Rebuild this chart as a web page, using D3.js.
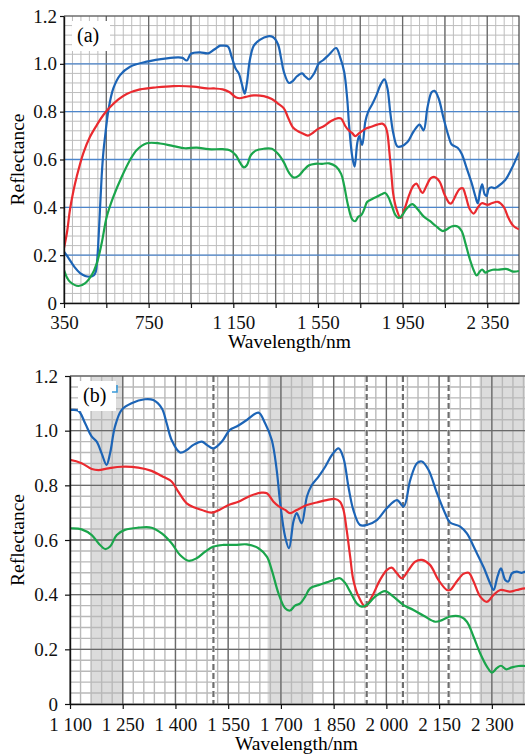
<!DOCTYPE html>
<html>
<head>
<meta charset="utf-8">
<script src="https://cdn.jsdelivr.net/npm/d3@7"></script>
<style>
  body { margin: 0; background: #fff; }
</style>
</head>
<body>
<div class="chartContainer"></div>
<script>
// spectra, [wavelength (nm), reflectance]
const blueSpectrum = [
  [350,0.215],[370,0.19],[400,0.15],[426,0.125],[450,0.113],[473,0.11],[490,0.115],[500,0.13],
  [506,0.17],[512,0.25],[520,0.39],[528,0.53],[536,0.63],[544,0.695],[560,0.807],[583,0.897],
  [615,0.953],[662,0.988],[741,1.009],[836,1.023],[890,1.027],[910,1.025],[930,1.014],[950,1.042],
  [993,1.048],[1032,1.044],[1060,1.06],[1088,1.076],[1100,1.076],[1124,1.073],[1143,1.027],
  [1162,0.978],[1176,0.96],[1190,0.917],[1204,0.875],[1214,0.917],[1228,1.015],[1247,1.076],
  [1275,1.10],[1313,1.115],[1337,1.112],[1361,1.082],[1375,1.027],[1389,0.966],[1413,0.92],
  [1432,0.929],[1451,0.948],[1475,0.96],[1489,0.948],[1508,0.935],[1532,0.96],[1555,1.003],
  [1574,1.015],[1603,1.039],[1636,1.066],[1655,1.027],[1674,0.966],[1688,0.856],[1698,0.734],
  [1712,0.612],[1723,0.57],[1736,0.67],[1745,0.698],[1759,0.661],[1774,0.759],[1788,0.801],
  [1807,0.832],[1826,0.868],[1845,0.911],[1864,0.935],[1878,0.899],[1892,0.795],[1906,0.71],
  [1925,0.655],[1944,0.655],[1973,0.673],[2001,0.716],[2030,0.746],[2049,0.722],[2068,0.82],
  [2087,0.881],[2101,0.887],[2120,0.856],[2144,0.771],[2167,0.698],[2181,0.664],[2210,0.649],
  [2229,0.624],[2253,0.563],[2276,0.502],[2295,0.442],[2305,0.417],[2316,0.466],[2326,0.496],
  [2338,0.454],[2347,0.448],[2357,0.478],[2371,0.484],[2385,0.48],[2400,0.487],[2435,0.514],
  [2466,0.563],[2500,0.63]
];
const redSpectrum = [
  [350,0.23],[365,0.3],[378,0.389],[395,0.47],[410,0.528],[441,0.626],[473,0.695],[505,0.744],
  [536,0.786],[567,0.818],[607,0.851],[646,0.874],[709,0.893],[788,0.902],[867,0.907],[961,0.905],
  [1025,0.897],[1060,0.897],[1100,0.893],[1133,0.881],[1162,0.86],[1181,0.856],[1209,0.862],
  [1247,0.868],[1294,0.865],[1332,0.853],[1361,0.834],[1389,0.814],[1408,0.777],[1432,0.734],
  [1456,0.718],[1475,0.71],[1503,0.7],[1527,0.712],[1551,0.728],[1579,0.74],[1612,0.761],
  [1645,0.773],[1660,0.771],[1679,0.74],[1693,0.724],[1712,0.71],[1726,0.698],[1745,0.71],
  [1774,0.728],[1802,0.737],[1830,0.746],[1854,0.75],[1868,0.74],[1878,0.71],[1887,0.637],
  [1897,0.539],[1906,0.454],[1921,0.393],[1940,0.356],[1959,0.393],[1982,0.454],[2001,0.49],
  [2015,0.499],[2030,0.478],[2044,0.46],[2063,0.49],[2082,0.521],[2101,0.527],[2124,0.509],
  [2148,0.454],[2172,0.417],[2181,0.417],[2200,0.448],[2219,0.476],[2234,0.48],[2248,0.448],
  [2267,0.393],[2286,0.374],[2305,0.399],[2324,0.417],[2352,0.411],[2371,0.417],[2400,0.423],
  [2427,0.403],[2451,0.354],[2474,0.322],[2500,0.308]
];
const greenSpectrum = [
  [350,0.138],[365,0.105],[378,0.089],[418,0.071],[449,0.082],[481,0.117],[505,0.166],[528,0.25],
  [552,0.361],[583,0.444],[623,0.528],[662,0.598],[694,0.64],[741,0.668],[804,0.667],[867,0.656],
  [922,0.647],[977,0.65],[1032,0.643],[1100,0.643],[1133,0.639],[1162,0.618],[1181,0.588],
  [1200,0.567],[1214,0.576],[1233,0.618],[1256,0.637],[1294,0.645],[1332,0.645],[1361,0.624],
  [1389,0.588],[1413,0.545],[1437,0.524],[1460,0.533],[1484,0.557],[1508,0.576],[1536,0.582],
  [1570,0.582],[1603,0.584],[1636,0.57],[1660,0.539],[1674,0.49],[1693,0.405],[1712,0.35],
  [1726,0.342],[1740,0.36],[1755,0.368],[1769,0.393],[1783,0.423],[1807,0.435],[1830,0.445],
  [1854,0.456],[1868,0.46],[1883,0.442],[1897,0.411],[1916,0.368],[1930,0.356],[1944,0.362],
  [1968,0.393],[1996,0.413],[2020,0.393],[2049,0.362],[2077,0.344],[2106,0.323],[2139,0.301],
  [2158,0.307],[2181,0.32],[2210,0.32],[2229,0.301],[2248,0.246],[2267,0.185],[2286,0.137],
  [2300,0.115],[2314,0.131],[2326,0.14],[2341,0.127],[2357,0.134],[2376,0.139],[2400,0.139],
  [2443,0.142],[2474,0.131],[2500,0.134]
];

const yTicks = [0, 0.2, 0.4, 0.6, 0.8, 1.0, 1.2];
const ticksA = [350, 550, 750, 950, 1150, 1350, 1550, 1750, 1950, 2150, 2350];
const labelsA = [350, 750, 1150, 1550, 1950, 2350];
const ticksB = [1100, 1250, 1400, 1550, 1700, 1850, 2000, 2150, 2300];
const bandsB = [[1160, 1250], [1662, 1788], [2265, 2400]];   // shaded absorption bands
const dashesB = [1508, 1944, 2047, 2177];                    // dashed marker lines

const series = [
  {name: 'blue', values: blueSpectrum, colour: '#1c64b6'},
  {name: 'red', values: redSpectrum, colour: '#ea2a2f'},
  {name: 'green', values: greenSpectrum, colour: '#1aa54b'}
];

const serif = '"Liberation Serif", "Times New Roman", Times, serif';

const svg = d3.select('.chartContainer')
              .append('svg')
                .attr('width', 525)
                .attr('height', 756)
                .attr('font-family', serif);

// thousands written with a space, like "1 150"
function wl(d) {
  if (d < 1000) return String(d);
  return Math.floor(d / 1000) + ' ' + String(d % 1000).padStart(3, '0');
}

function panel(cfg) {
  const x = d3.scaleLinear().domain(cfg.xDomain).range([cfg.left, cfg.right]);
  const y = d3.scaleLinear().domain([0, 1.2]).range([cfg.bottom, cfg.top]);
  const g = svg.append('g');

  g.append('clipPath').attr('id', 'clip-' + cfg.name)
    .append('rect')
      .attr('x', cfg.left).attr('y', cfg.top)
      .attr('width', cfg.right - cfg.left).attr('height', cfg.bottom - cfg.top);

  // grey bands
  g.selectAll('rect.band')
    .data(cfg.bands)
    .enter()
      .append('rect')
        .attr('x', d => x(d[0]))
        .attr('y', cfg.top)
        .attr('width', d => x(d[1]) - x(d[0]))
        .attr('height', cfg.bottom - cfg.top)
        .attr('fill', '#dcdcdc');

  // minor grid
  const minorX = d3.range(cfg.xDomain[0], cfg.xDomain[1] + 1, cfg.minorStep);
  const minorY = d3.range(0, 1.2001, 0.04);
  g.selectAll('line.mx').data(minorX).enter().append('line')
    .attr('x1', d => x(d)).attr('x2', d => x(d))
    .attr('y1', cfg.top).attr('y2', cfg.bottom)
    .attr('stroke', cfg.minorColour).attr('stroke-width', cfg.minorWidth);
  g.selectAll('line.my').data(minorY).enter().append('line')
    .attr('x1', cfg.left).attr('x2', cfg.right)
    .attr('y1', d => y(d)).attr('y2', d => y(d))
    .attr('stroke', cfg.minorColour).attr('stroke-width', cfg.minorWidth);

  // major grid
  g.selectAll('line.Mx').data(cfg.ticks).enter().append('line')
    .attr('x1', d => x(d)).attr('x2', d => x(d))
    .attr('y1', cfg.top).attr('y2', cfg.bottom)
    .attr('stroke', '#6a6a6a').attr('stroke-width', 1.3);
  g.selectAll('line.My').data(yTicks.slice(1, -1)).enter().append('line')
    .attr('x1', cfg.left).attr('x2', cfg.right)
    .attr('y1', d => y(d)).attr('y2', d => y(d))
    .attr('stroke', cfg.majorY).attr('stroke-width', 1.3);

  // dashed markers: white under-line, grey dashes on top
  g.selectAll('line.dw').data(cfg.dashes).enter().append('line')
    .attr('x1', d => x(d)).attr('x2', d => x(d))
    .attr('y1', cfg.top).attr('y2', cfg.bottom)
    .attr('stroke', '#fff').attr('stroke-width', 3);
  g.selectAll('line.dg').data(cfg.dashes).enter().append('line')
    .attr('x1', d => x(d)).attr('x2', d => x(d))
    .attr('y1', cfg.top).attr('y2', cfg.bottom)
    .attr('stroke', '#6f6f6f').attr('stroke-width', 2.2)
    .attr('stroke-dasharray', '6,3');

  // frame top / right
  g.append('path')
    .attr('d', `M${cfg.left},${cfg.top}H${cfg.right}V${cfg.bottom}`)
    .attr('fill', 'none').attr('stroke', '#444').attr('stroke-width', 1.2);

  // spectra
  const line = d3.line()
                 .x(d => x(d[0]))
                 .y(d => y(d[1]))
                 .curve(d3.curveCatmullRom.alpha(0.5));
  g.append('g').attr('clip-path', `url(#clip-${cfg.name})`)
    .selectAll('path')
    .data(series)
    .enter()
      .append('path')
        .attr('d', d => line(d.values))
        .attr('fill', 'none')
        .attr('stroke', d => d.colour)
        .attr('stroke-width', 2.2)
        .attr('stroke-linejoin', 'round');

  // axes
  const xAxis = g.append('g')
    .attr('transform', `translate(0, ${cfg.bottom})`)
    .call(d3.axisBottom(x).tickValues(cfg.ticks).tickSize(5).tickSizeOuter(0)
             .tickFormat(d => cfg.labels.includes(d) ? wl(d) : ''));
  xAxis.selectAll('text').attr('y', cfg.xLabelDrop).attr('dy', null);
  const yAxis = g.append('g')
    .attr('transform', `translate(${cfg.left}, 0)`)
    .call(d3.axisLeft(y).tickValues(yTicks).tickSize(cfg.yTick).tickSizeOuter(0)
             .tickPadding(cfg.yPad)
             .tickFormat(d => d === 0 ? '0' : d.toFixed(1)));
  g.selectAll('.tick text')
    .attr('font-family', serif).attr('font-size', 19).attr('fill', '#111');
  g.selectAll('.domain').attr('stroke', '#111').attr('stroke-width', 1.4);
  g.selectAll('.tick line').attr('stroke', '#111').attr('stroke-width', 1.2);

  // axis titles
  g.append('text')
    .attr('x', (cfg.left + cfg.right) / 2 - 2)
    .attr('y', cfg.titleY)
    .attr('text-anchor', 'middle')
    .attr('font-size', 19.5)
    .text('Wavelength/nm');
  g.append('text')
    .attr('transform', `translate(24, ${(cfg.top + cfg.bottom) / 2}) rotate(-90)`)
    .attr('text-anchor', 'middle')
    .attr('font-size', 19.5)
    .text('Reflectance');

  // panel letter in white box
  g.append('rect')
    .attr('x', cfg.left + 8).attr('y', cfg.top + 5)
    .attr('width', 38).attr('height', 30)
    .attr('fill', '#fff');
  g.append('text')
    .attr('x', cfg.left + 13).attr('y', cfg.top + 26)
    .attr('font-size', 20)
    .text(cfg.letter);
  return g;
}

panel({
  name: 'a', letter: '(a)',
  left: 64, right: 519, top: 16, bottom: 303,
  xDomain: [350, 2500], ticks: ticksA, labels: labelsA,
  minorStep: 40, minorColour: '#bdbdbd', minorWidth: 1, majorY: '#4d86cc',
  bands: [], dashes: [],
  yTick: 4, yPad: 3, xLabelDrop: 26, titleY: 348
});

const gb = panel({
  name: 'b', letter: '(b)',
  left: 70, right: 527, top: 376, bottom: 704,
  xDomain: [1100, 2400], ticks: ticksB, labels: ticksB,
  minorStep: 30, minorColour: '#b9b9b9', minorWidth: 1.4, majorY: '#6a6a6a',
  bands: bandsB, dashes: dashesB,
  yTick: 5, yPad: 7, xLabelDrop: 27, titleY: 750
});

// small blue corner mark beside "(b)"
gb.append('path')
  .attr('d', 'M117,385V392H112')
  .attr('fill', 'none').attr('stroke', '#3a9ad9').attr('stroke-width', 1.6);
</script>
</body>
</html>
